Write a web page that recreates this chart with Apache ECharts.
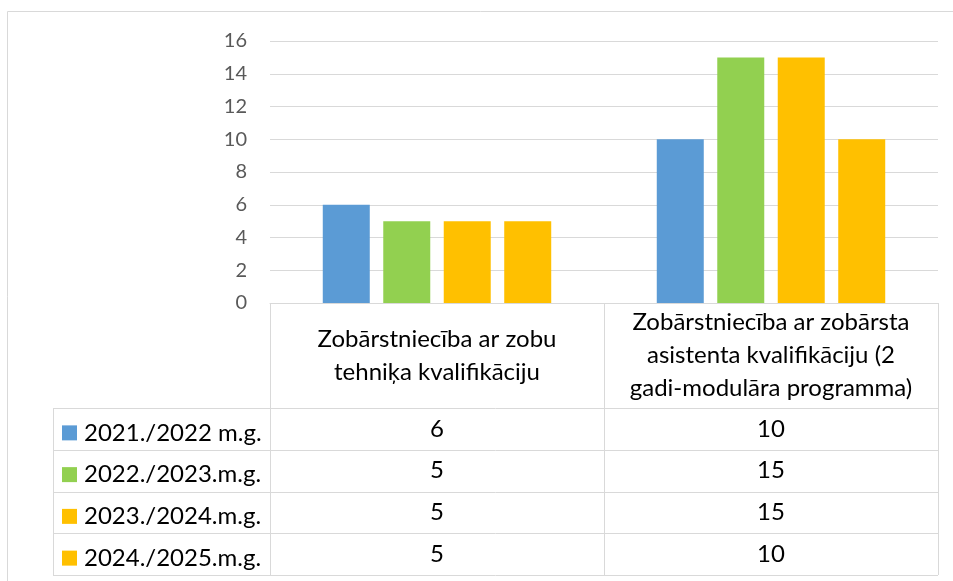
<!DOCTYPE html>
<html>
<head>
<meta charset="utf-8">
<script src="https://cdn.jsdelivr.net/npm/echarts@6/dist/echarts.min.js"></script>
<style>
  html, body { margin: 0; padding: 0; background: #fff; }
  #chart { width: 953px; height: 581px; }
</style>
</head>
<body>
<div id="chart"></div>
<script>
// dati
const categories = [
  "Zobārstniecība ar zobu\ntehniķa kvalifikāciju",
  "Zobārstniecība ar zobārsta\nasistenta kvalifikāciju (2\ngadi-modulāra programma)",
];
const seriesNames = ["2021./2022 m.g.", "2022./2023.m.g.", "2023./2024.m.g.", "2024./2025.m.g."];
const values2122 = [6, 10];
const values2223 = [5, 15];
const values2324 = [5, 15];
const values2425 = [5, 10];
const yTicks = [0, 2, 4, 6, 8, 10, 12, 14, 16];

const seriesValues = [values2122, values2223, values2324, values2425];
const colors = ["#5B9BD5", "#92D050", "#FFC000", "#FFC000"];

// izkārtojums
const gridLeft = 270;
const gridRight = 938;
const axisY = 303;
const tableLeft = 53;
const rowTop = 408;
const rowH = 41.75;
const lineColor = "#d9d9d9";
const font = "Lato";
const tableFontSize = 24;

const chart = echarts.init(document.getElementById("chart"));

const valueAxes = seriesValues.map((vals, i) => ({
  type: "category",
  gridIndex: 0,
  position: "bottom",
  offset: rowTop + rowH * i + rowH / 2 - axisY,
  data: vals.map(String),
  axisLine: { show: false },
  axisTick: { show: false },
  splitLine: { show: false },
  axisLabel: {
    interval: 0,
    margin: 0,
    verticalAlign: "middle",
    fontFamily: font,
    fontSize: tableFontSize,
    color: "#000",
  },
}));

// katrai rindai sava leģenda, lai tā stāvētu tabulas rindā
const legends = seriesNames.map((name, i) => ({
  orient: "vertical",
  left: 62,
  top: rowTop + rowH * i + rowH / 2 - 8,
  icon: "rect",
  itemWidth: 15,
  itemHeight: 15,
  selectedMode: false,
  padding: 0,
  data: [name],
  textStyle: {
    fontFamily: font,
    fontSize: tableFontSize,
    color: "#000",
    padding: [0, 0, 0, 2],
  },
}));

const tableLines = [];
for (let i = 0; i <= seriesValues.length; i++) {
  const y = Math.round(rowTop + rowH * i) + 0.5;
  tableLines.push({
    type: "line",
    shape: { x1: tableLeft, y1: y, x2: gridRight, y2: y },
    style: { stroke: lineColor, lineWidth: 1 },
  });
}
tableLines.push({
  type: "line",
  shape: { x1: tableLeft + 0.5, y1: rowTop, x2: tableLeft + 0.5, y2: rowTop + rowH * seriesValues.length },
  style: { stroke: lineColor, lineWidth: 1 },
});

const option = {
  animation: false,
  color: colors,
  graphic: [
    {
      type: "rect",
      shape: { x: 7.5, y: 11.5, width: 980, height: 620 },
      style: { fill: "none", stroke: lineColor, lineWidth: 1 },
    },
    ...tableLines,
  ],
  legend: legends,
  grid: {
    left: gridLeft,
    right: 953 - gridRight,
    top: 41,
    bottom: 581 - axisY,
  },
  xAxis: [
    {
      type: "category",
      data: categories,
      axisLine: { show: true, lineStyle: { color: lineColor, width: 1 } },
      axisTick: {
        show: true,
        interval: 0,
        length: rowTop + rowH * seriesValues.length - axisY,
        lineStyle: { color: lineColor, width: 1 },
      },
      axisLabel: {
        interval: 0,
        margin: (rowTop - axisY) / 2,
        verticalAlign: "middle",
        lineHeight: 33,
        fontFamily: font,
        fontSize: tableFontSize,
        color: "#000",
      },
    },
    ...valueAxes,
  ],
  yAxis: {
    type: "value",
    min: yTicks[0],
    max: yTicks[yTicks.length - 1],
    interval: 2,
    axisLine: { show: false },
    axisTick: { show: false },
    splitLine: { lineStyle: { color: lineColor, width: 1 } },
    axisLabel: {
      margin: 23,
      fontFamily: font,
      fontSize: 20,
      color: "#595959",
    },
  },
  series: seriesNames.map((name, i) => ({
    name: name,
    type: "bar",
    xAxisIndex: 0,
    data: seriesValues[i],
    barCategoryGap: "31.6%",
    barGap: "28.7%",
    itemStyle: { color: colors[i] },
  })),
};

chart.setOption(option);
</script>
</body>
</html>
